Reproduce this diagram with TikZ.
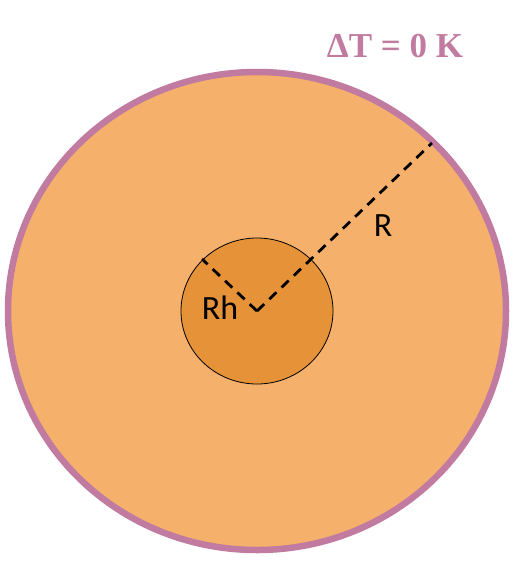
\documentclass[tikz,border=0pt]{standalone}
\usepackage{fontspec}
\usetikzlibrary{shapes.geometric}
\setmainfont{Carlito}
\newfontfamily\titlefont{Liberation Serif}
\definecolor{outerfill}{HTML}{F5B16B}
\definecolor{innerfill}{HTML}{E59239}
\definecolor{rim}{HTML}{C27BA0}
\begin{document}
\begin{tikzpicture}[x=1pt,y=-1pt,
  radius line/.style={line width=2.8pt, dash pattern=on 10pt off 7pt},
  lbl/.style={font=\fontsize{34}{34}\selectfont, text=black, inner sep=0pt}]
\useasboundingbox (0,0) rectangle (514,573);
\draw[rim, fill=outerfill, line width=6.5pt] (257,311) ellipse [x radius=249, y radius=239];
\node[draw=black, line width=0.8pt, fill=innerfill, ellipse, minimum width=152pt, minimum height=146pt, inner sep=0pt] (inner) at (257,311) {};
\coordinate (c) at (257,311);
\coordinate (rend) at (432,143);
\coordinate (rhend) at (202,259);
\draw[radius line] (c) -- (rend);
\draw[radius line] (c) -- (rhend);
\node[lbl] (R) at (383,226) {R};
\node[lbl] (Rh) at (220,308) {Rh};
\node[text=rim, font=\titlefont\bfseries\fontsize{35}{35}\selectfont, inner sep=0pt] (title) at (395,46) {ΔT = 0 K};
\end{tikzpicture}
\end{document}
